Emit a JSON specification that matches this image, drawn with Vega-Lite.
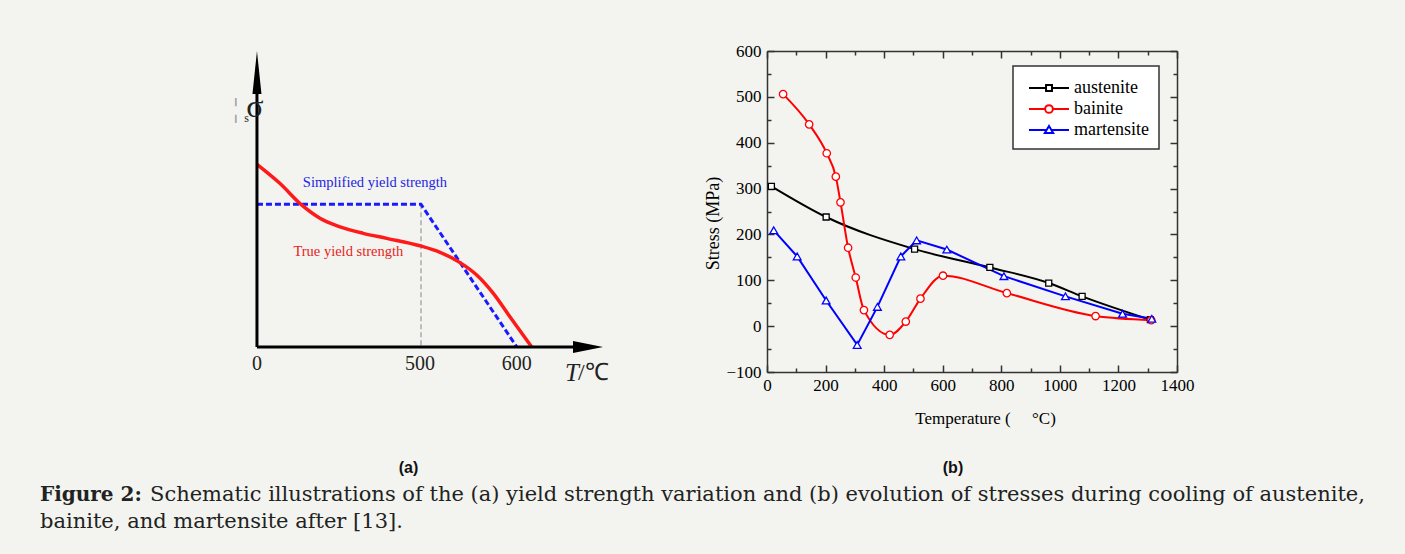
{
  "$schema": "https://vega.github.io/schema/vega-lite/v6.json",
  "background": "#f3f4ef",
  "padding": {"left": 40, "top": 42, "right": 34, "bottom": 21},
  "config": {
    "view": {"stroke": null},
    "font": "Liberation Serif",
    "axis": {"grid": false, "domainColor": "#333333", "domainWidth": 1.5, "tickColor": "#333333", "tickWidth": 1.5,
      "labelFont": "Liberation Serif", "labelFontSize": 17, "labelColor": "#000000", "labelOverlap": false, "labelFlush": false,
      "titleFont": "Liberation Serif", "titleFontWeight": "normal", "titleColor": "#000000"}
  },
  "datasets": {
    "stress": [
      {"series": "austenite", "temp": 15, "stress": 305},
      {"series": "austenite", "temp": 202, "stress": 238},
      {"series": "austenite", "temp": 504, "stress": 168},
      {"series": "austenite", "temp": 761, "stress": 128},
      {"series": "austenite", "temp": 962, "stress": 94},
      {"series": "austenite", "temp": 1076, "stress": 65},
      {"series": "austenite", "temp": 1309, "stress": 14},
      {"series": "bainite", "temp": 55, "stress": 506},
      {"series": "bainite", "temp": 144, "stress": 440},
      {"series": "bainite", "temp": 204, "stress": 377},
      {"series": "bainite", "temp": 235, "stress": 326},
      {"series": "bainite", "temp": 251, "stress": 270},
      {"series": "bainite", "temp": 277, "stress": 171},
      {"series": "bainite", "temp": 303, "stress": 106},
      {"series": "bainite", "temp": 331, "stress": 35},
      {"series": "bainite", "temp": 419, "stress": -19},
      {"series": "bainite", "temp": 474, "stress": 10},
      {"series": "bainite", "temp": 524, "stress": 60},
      {"series": "bainite", "temp": 601, "stress": 110},
      {"series": "bainite", "temp": 819, "stress": 72},
      {"series": "bainite", "temp": 1122, "stress": 22},
      {"series": "bainite", "temp": 1312, "stress": 13},
      {"series": "martensite", "temp": 23, "stress": 209},
      {"series": "martensite", "temp": 103, "stress": 152},
      {"series": "martensite", "temp": 202, "stress": 56},
      {"series": "martensite", "temp": 308, "stress": -41},
      {"series": "martensite", "temp": 377, "stress": 42},
      {"series": "martensite", "temp": 457, "stress": 152},
      {"series": "martensite", "temp": 511, "stress": 187},
      {"series": "martensite", "temp": 614, "stress": 167},
      {"series": "martensite", "temp": 809, "stress": 109},
      {"series": "martensite", "temp": 1019, "stress": 65},
      {"series": "martensite", "temp": 1214, "stress": 27},
      {"series": "martensite", "temp": 1314, "stress": 16}
    ],
    "trueys": [
      {"u": 0.0, "v": 0.617}, {"u": 0.066, "v": 0.553}, {"u": 0.129, "v": 0.48}, {"u": 0.182, "v": 0.435},
      {"u": 0.24, "v": 0.406}, {"u": 0.307, "v": 0.384}, {"u": 0.375, "v": 0.367}, {"u": 0.471, "v": 0.342},
      {"u": 0.529, "v": 0.32}, {"u": 0.587, "v": 0.285}, {"u": 0.635, "v": 0.243}, {"u": 0.683, "v": 0.181},
      {"u": 0.731, "v": 0.102}, {"u": 0.794, "v": 0.0}
    ],
    "simple": [{"u": 0.0, "v": 0.482}, {"u": 0.474, "v": 0.482}, {"u": 0.751, "v": 0.0}],
    "guide": [{"u": 0.474, "v": 0.482}, {"u": 0.474, "v": 0.0}],
    "axesA": [
      {"axis": "T", "u": 0.0, "v": 0.0}, {"axis": "T", "u": 0.95, "v": 0.0},
      {"axis": "sigma", "u": 0.0, "v": 0.0}, {"axis": "sigma", "u": 0.0, "v": 0.9}
    ],
    "arrows": [{"dir": "up", "u": 0.0, "v": 1.0}, {"dir": "right", "u": 1.0, "v": 0.0}],
    "notesA": [
      {"role": "simplified", "label": "Simplified yield strength", "u": 0.341, "v": 0.554},
      {"role": "true", "label": "True yield strength", "u": 0.264, "v": 0.322},
      {"role": "tick", "label": "0", "u": 0.0, "v": -0.057},
      {"role": "tick", "label": "500", "u": 0.471, "v": -0.057},
      {"role": "tick", "label": "600", "u": 0.751, "v": -0.057},
      {"role": "T", "label": "T", "u": 0.89, "v": -0.088},
      {"role": "unit", "label": "/℃", "u": 0.928, "v": -0.088},
      {"role": "sigma", "label": "σ", "u": -0.006, "v": 0.811},
      {"role": "sub", "label": "s", "u": -0.03, "v": 0.772},
      {"role": "bar", "label": "¦", "u": -0.061, "v": 0.804}
    ],
    "caption": [
      {"line": 1, "part": "bold", "text": "Figure 2:"},
      {"line": 1, "part": "lead", "text": "Schematic illustrations of the (a) yield strength variation and (b) evolution of stresses during cooling of austenite,"},
      {"line": 2, "part": "plain", "text": "bainite, and martensite after [13]."}
    ]
  },
  "vconcat": [
    {
      "hconcat": [
        {
          "width": 563, "height": 321,
          "title": {"text": "(a)", "orient": "bottom", "frame": "group", "offset": 74, "dx": 87, "anchor": "middle",
            "font": "Liberation Sans", "fontSize": 16, "fontWeight": "bold", "color": "#111111"},
          "encoding": {
            "x": {"field": "u", "type": "quantitative", "scale": {"domain": [-0.627, 1], "nice": false, "zero": false}, "axis": null},
            "y": {"field": "v", "type": "quantitative", "scale": {"domain": [-0.0845, 1], "nice": false, "zero": false}, "axis": null}
          },
          "layer": [
            {"data": {"name": "guide"}, "mark": {"type": "line", "stroke": "#bdbdbd", "strokeWidth": 2, "strokeDash": [5, 3]}},
            {"data": {"name": "simple"}, "mark": {"type": "line", "stroke": "#1a1aff", "strokeWidth": 3, "strokeDash": [6, 3]}},
            {"data": {"name": "trueys"}, "mark": {"type": "line", "stroke": "#ff1a1a", "strokeWidth": 3.5, "interpolate": "monotone"}},
            {"data": {"name": "axesA"}, "mark": {"type": "line", "stroke": "#000000", "strokeWidth": 3}, "encoding": {"detail": {"field": "axis"}}},
            {"data": {"name": "arrows"}, "transform": [{"filter": "datum.dir === 'up'"}],
              "mark": {"type": "point", "filled": true, "color": "#000000", "size": 400, "opacity": 1, "strokeWidth": 0, "shape": "M0,0L0.45,4.3L-0.45,4.3Z"}},
            {"data": {"name": "arrows"}, "transform": [{"filter": "datum.dir === 'right'"}],
              "mark": {"type": "point", "filled": true, "color": "#000000", "size": 400, "opacity": 1, "strokeWidth": 0, "shape": "M0,0L-3,-0.6L-3,0.6Z"}},
            {"data": {"name": "notesA"}, "transform": [{"filter": "datum.role === 'simplified'"}],
              "mark": {"type": "text", "font": "Liberation Serif", "fontSize": 14.5, "color": "#2323e6", "align": "center", "baseline": "middle"},
              "encoding": {"text": {"field": "label"}}},
            {"data": {"name": "notesA"}, "transform": [{"filter": "datum.role === 'true'"}],
              "mark": {"type": "text", "font": "Liberation Serif", "fontSize": 14.5, "color": "#e62323", "align": "center", "baseline": "middle"},
              "encoding": {"text": {"field": "label"}}},
            {"data": {"name": "notesA"}, "transform": [{"filter": "datum.role === 'tick'"}],
              "mark": {"type": "text", "font": "Liberation Serif", "fontSize": 20, "color": "#222222", "align": "center", "baseline": "middle"},
              "encoding": {"text": {"field": "label"}}},
            {"data": {"name": "notesA"}, "transform": [{"filter": "datum.role === 'T'"}],
              "mark": {"type": "text", "font": "Liberation Serif", "fontSize": 25, "fontStyle": "italic", "color": "#222222", "align": "left", "baseline": "middle"},
              "encoding": {"text": {"field": "label"}}},
            {"data": {"name": "notesA"}, "transform": [{"filter": "datum.role === 'unit'"}],
              "mark": {"type": "text", "font": "Liberation Serif", "fontSize": 24, "color": "#222222", "align": "left", "baseline": "middle"},
              "encoding": {"text": {"field": "label"}}},
            {"data": {"name": "notesA"}, "transform": [{"filter": "datum.role === 'sigma'"}],
              "mark": {"type": "text", "font": "Liberation Serif", "fontSize": 32, "color": "#222222", "align": "center", "baseline": "middle"},
              "encoding": {"text": {"field": "label"}}},
            {"data": {"name": "notesA"}, "transform": [{"filter": "datum.role === 'sub'"}],
              "mark": {"type": "text", "font": "Liberation Serif", "fontSize": 12, "color": "#222222", "align": "center", "baseline": "middle"},
              "encoding": {"text": {"field": "label"}}},
            {"data": {"name": "notesA"}, "transform": [{"filter": "datum.role === 'bar'"}],
              "mark": {"type": "text", "font": "Liberation Serif", "fontSize": 28, "color": "#9a9a9a", "align": "center", "baseline": "middle"},
              "encoding": {"text": {"field": "label"}}}
          ]
        },
        {
          "width": 410, "height": 321,
          "title": {"text": "(b)", "orient": "bottom", "frame": "group", "offset": 34, "dx": -19, "anchor": "middle",
            "font": "Liberation Sans", "fontSize": 16, "fontWeight": "bold", "color": "#111111"},
          "data": {"name": "stress"},
          "layer": [
            {
              "transform": [{"filter": "datum.series !== 'martensite'"}],
              "mark": {"type": "line", "interpolate": "monotone", "strokeWidth": 2},
              "encoding": {
                "x": {"field": "temp", "type": "quantitative", "scale": {"domain": [0, 1400], "nice": false},
                  "axis": {"orient": "bottom", "values": [0, 100, 200, 300, 400, 500, 600, 700, 800, 900, 1000, 1100, 1200, 1300, 1400],
                    "format": "d", "labelExpr": "datum.value % 200 === 0 ? datum.label : ''",
                    "tickSize": {"expr": "datum.value % 200 === 0 ? -7 : -4"}, "labelPadding": 12,
                    "title": "Temperature (\u00a0\u00a0\u00a0\u00a0\u00a0°C)", "titleFontSize": 17, "titleX": 218, "titleY": 46, "titleBaseline": "middle", "titleAlign": "center"}},
                "y": {"field": "stress", "type": "quantitative", "scale": {"domain": [-100, 600], "nice": false, "zero": false},
                  "axis": {"orient": "left", "values": [-100, -50, 0, 50, 100, 150, 200, 250, 300, 350, 400, 450, 500, 550, 600],
                    "format": "d", "labelExpr": "datum.value % 100 === 0 ? datum.label : ''",
                    "tickSize": {"expr": "datum.value % 100 === 0 ? -7 : -4"}, "labelPadding": 13,
                    "title": "Stress (MPa)", "titleFontSize": 18, "titleX": -54, "titleY": 172, "titleBaseline": "middle", "titleAlign": "center", "titleAngle": -90}},
                "color": {"field": "series", "type": "nominal",
                  "scale": {"domain": ["austenite", "bainite", "martensite"], "range": ["#000000", "#ff0000", "#0000ff"]},
                  "legend": {"title": null, "orient": "none", "legendX": 246, "legendY": 15, "fillColor": "#ffffff", "strokeColor": "#333333",
                    "padding": 10, "rowPadding": 0, "symbolSize": 484, "labelOffset": 27, "labelFont": "Liberation Serif", "labelFontSize": 18,
                    "labelColor": "#000000", "symbolStrokeWidth": 2,
                    "encode": {
                      "legend": {"update": {"strokeWidth": {"value": 1.5}}},
                      "symbols": {"update": {
                        "fill": {"value": "#ffffff"},
                        "size": {"value": 484},
                        "strokeWidth": {"value": 2},
                        "shape": {"signal": "datum.value === 'austenite' ? 'M-0.545,0L1.003,0M1.543,0L3.09,0M1.003,-0.27L1.543,-0.27L1.543,0.27L1.003,0.27Z' : datum.value === 'bainite' ? 'M-0.545,0L0.923,0M1.623,0L3.09,0M0.923,0A0.35,0.35,0,1,1,1.623,0A0.35,0.35,0,1,1,0.923,0Z' : 'M-0.545,0L1.063,0M1.483,0L3.09,0M1.273,-0.36L1.653,0.28L0.893,0.28Z'"}
                      }}
                    }}}
              }
            },
            {
              "transform": [{"filter": "datum.series === 'martensite'"}],
              "mark": {"type": "line", "strokeWidth": 2},
              "encoding": {
                "x": {"field": "temp", "type": "quantitative", "scale": {"domain": [0, 1400], "nice": false},
                  "axis": {"orient": "top", "values": [0, 100, 200, 300, 400, 500, 600, 700, 800, 900, 1000, 1100, 1200, 1300, 1400],
                    "labels": false, "title": null, "tickSize": {"expr": "datum.value % 200 === 0 ? -7 : -4"}}},
                "y": {"field": "stress", "type": "quantitative", "scale": {"domain": [-100, 600], "nice": false, "zero": false},
                  "axis": {"orient": "right", "values": [-100, -50, 0, 50, 100, 150, 200, 250, 300, 350, 400, 450, 500, 550, 600],
                    "labels": false, "title": null, "tickSize": {"expr": "datum.value % 100 === 0 ? -7 : -4"}}},
                "color": {"field": "series", "type": "nominal",
                  "scale": {"domain": ["austenite", "bainite", "martensite"], "range": ["#000000", "#ff0000", "#0000ff"]}}
              }
            },
            {
              "transform": [{"filter": "datum.series === 'austenite'"}],
              "mark": {"type": "point", "shape": "square", "size": 36, "filled": true, "fill": "#ffffff", "stroke": "#000000", "strokeWidth": 1.3, "opacity": 1},
              "encoding": {
                "x": {"field": "temp", "type": "quantitative", "scale": {"domain": [0, 1400], "nice": false}, "axis": null},
                "y": {"field": "stress", "type": "quantitative", "scale": {"domain": [-100, 600], "nice": false, "zero": false}, "axis": null}
              }
            },
            {
              "transform": [{"filter": "datum.series === 'bainite'"}],
              "mark": {"type": "point", "shape": "circle", "size": 55, "filled": true, "fill": "#ffffff", "stroke": "#ff0000", "strokeWidth": 1.3, "opacity": 1},
              "encoding": {
                "x": {"field": "temp", "type": "quantitative", "scale": {"domain": [0, 1400], "nice": false}, "axis": null},
                "y": {"field": "stress", "type": "quantitative", "scale": {"domain": [-100, 600], "nice": false, "zero": false}, "axis": null}
              }
            },
            {
              "transform": [{"filter": "datum.series === 'martensite'"}],
              "mark": {"type": "point", "shape": "triangle-up", "size": 60, "filled": true, "fill": "#ffffff", "stroke": "#0000ff", "strokeWidth": 1.3, "opacity": 1},
              "encoding": {
                "x": {"field": "temp", "type": "quantitative", "scale": {"domain": [0, 1400], "nice": false}, "axis": null},
                "y": {"field": "stress", "type": "quantitative", "scale": {"domain": [-100, 600], "nice": false, "zero": false}, "axis": null}
              }
            }
          ],
          "resolve": {"axis": {"x": "independent", "y": "independent"}}
        }
      ],
      "spacing": 164,
      "bounds": "flush",
      "resolve": {
        "scale": {"color": "independent"},
        "legend": {"color": "independent"}
      }
    },
    {
      "width": 1331, "height": 54,
      "data": {"name": "caption"},
      "encoding": {
        "x": {"datum": 0, "type": "quantitative", "scale": {"domain": [0, 1]}, "axis": null},
        "y": {"field": "line", "type": "ordinal", "scale": {"type": "point", "padding": 0.5}, "axis": null},
        "text": {"field": "text"}
      },
      "layer": [
        {"transform": [{"filter": "datum.part === 'bold'"}],
          "mark": {"type": "text", "align": "left", "baseline": "middle", "font": "DejaVu Serif", "fontWeight": "bold", "fontSize": 20, "color": "#222222"}},
        {"transform": [{"filter": "datum.part === 'lead'"}],
          "mark": {"type": "text", "align": "left", "baseline": "middle", "font": "DejaVu Serif", "fontSize": 21, "color": "#222222", "dx": 110}},
        {"transform": [{"filter": "datum.part === 'plain'"}],
          "mark": {"type": "text", "align": "left", "baseline": "middle", "font": "DejaVu Serif", "fontSize": 21, "color": "#222222"}}
      ]
    }
  ],
  "spacing": 4,
  "bounds": "full",
  "resolve": {
    "scale": {"color": "independent"},
    "legend": {"color": "independent"}
  }
}
